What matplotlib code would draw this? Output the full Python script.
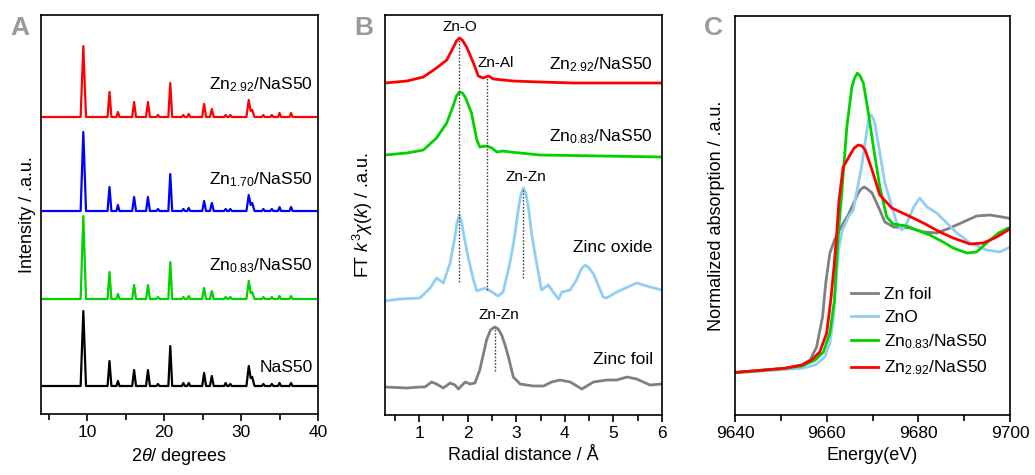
import numpy as np
import matplotlib
matplotlib.use("Agg")
import matplotlib.pyplot as plt
from matplotlib.ticker import MultipleLocator

plt.rcParams['font.family'] = ['Liberation Sans', 'DejaVu Sans']
plt.rcParams['mathtext.fontset'] = 'custom'
plt.rcParams['mathtext.rm'] = 'Liberation Sans'
plt.rcParams['mathtext.it'] = 'Liberation Sans:italic'
plt.rcParams['mathtext.bf'] = 'Liberation Sans:bold'

# ---------------- Panel A: XRD ----------------
two_theta = [4.0, 9.15, 9.5, 9.85, 12.65, 12.9, 13.15, 13.8, 14.0, 14.2,
             15.85, 16.1, 16.35, 17.65, 17.9, 18.15, 19.0, 19.2, 19.4,
             20.55, 20.8, 21.05, 22.3, 22.5, 22.7, 23.0, 23.2, 23.4,
             24.95, 25.2, 25.45, 25.95, 26.2, 26.45, 27.8, 28.0, 28.2,
             28.4, 28.6, 28.8, 30.7, 31.0, 31.25, 31.45, 31.75,
             32.7, 32.9, 33.1, 33.8, 34.0, 34.2, 34.8, 35.0, 35.2,
             36.3, 36.5, 36.7, 40.0]
xrd_zn292 = [0, 0, 71, 0, 0, 25, 0, 0, 5, 0, 0, 15, 0, 0, 15, 0, 0, 2, 0,
             0, 34, 0, 0, 2, 0, 0, 3, 0, 0, 13, 0, 0, 8, 0, 0, 2, 0,
             0, 2, 0, 0, 17, 6, 7, 0, 0, 2, 0, 0, 2, 0, 0, 4, 0, 0, 4, 0, 0]
xrd_zn170 = [0, 0, 79, 0, 0, 24, 0, 0, 6, 0, 0, 14, 0, 0, 14, 0, 0, 2, 0,
             0, 37, 0, 0, 2, 0, 0, 3, 0, 0, 10, 0, 0, 8, 0, 0, 2, 0,
             0, 2, 0, 0, 16, 6, 8, 0, 0, 2, 0, 0, 2, 0, 0, 4, 0, 0, 4, 0, 0]
xrd_zn083 = [0, 0, 83, 0, 0, 27, 0, 0, 5, 0, 0, 14, 0, 0, 14, 0, 0, 2, 0,
             0, 37, 0, 0, 2, 0, 0, 3, 0, 0, 11, 0, 0, 8, 0, 0, 2, 0,
             0, 2, 0, 0, 18, 6, 7, 0, 0, 2, 0, 0, 2, 0, 0, 3, 0, 0, 3, 0, 0]
xrd_nas50 = [0, 0, 75, 0, 0, 25, 0, 0, 5, 0, 0, 16, 0, 0, 16, 0, 0, 2, 0,
             0, 40, 0, 0, 3, 0, 0, 3, 0, 0, 13, 0, 0, 10, 0, 0, 3, 0,
             0, 2, 0, 0, 20, 8, 9, 0, 0, 2, 0, 0, 2, 0, 0, 3, 0, 0, 3, 0, 0]
xrd_labels = ['Zn$_\\mathregular{2.92}$/NaS50', 'Zn$_\\mathregular{1.70}$/NaS50',
              'Zn$_\\mathregular{0.83}$/NaS50', 'NaS50']

# ---------------- Panel B: FT-EXAFS ----------------
r_zn292 = [0.3, 0.75, 1.09, 1.36, 1.57, 1.71, 1.77, 1.83, 1.89, 1.98, 2.12, 2.22,
           2.32, 2.43, 2.53, 2.73, 2.94, 3.49, 4.17, 6.0]
ft_zn292 = [332, 334, 338, 347, 355, 368, 374, 377, 375, 368, 352, 339,
            337, 339, 336, 335, 334, 333, 332, 332]
r_zn083 = [0.3, 0.75, 1.09, 1.36, 1.57, 1.71, 1.77, 1.83, 1.89, 1.95, 2.08, 2.19,
           2.25, 2.39, 2.5, 2.6, 2.73, 2.87, 3.49, 6.0]
ft_zn083 = [260, 262, 265, 277, 292, 310, 319, 323, 322, 318, 302, 275,
            268, 269, 267, 263, 264, 263, 260, 258]
r_zno = [0.3, 0.61, 1.02, 1.23, 1.36, 1.5, 1.64, 1.70, 1.74, 1.78, 1.83, 1.88,
         1.93, 1.97, 2.01, 2.12, 2.19, 2.36, 2.5, 2.63, 2.73, 2.87, 2.93, 2.97,
         3.05, 3.10, 3.15, 3.20, 3.25, 3.32, 3.37, 3.42, 3.52, 3.66, 3.76, 3.87,
         3.94, 4.11, 4.24, 4.34, 4.42, 4.50, 4.59, 4.79, 4.86, 5.07, 5.48, 5.75,
         6.0]
ft_zno = [114, 116, 117, 127, 137, 132, 152, 168, 178, 192, 200, 192,
          178, 168, 158, 135, 124, 127, 123, 119, 123, 152, 168, 180,
          208, 221, 227, 221, 208, 180, 166, 152, 125, 130, 123, 116,
          123, 125, 135, 146, 150, 147, 141, 118, 117, 123, 132, 128,
          125]
r_foil = [0.3, 0.75, 1.02, 1.12, 1.26, 1.36, 1.5, 1.64, 1.74, 1.81, 1.95, 2.05,
          2.15, 2.25, 2.33, 2.39, 2.47, 2.56, 2.63, 2.70, 2.77, 2.84, 2.94, 3.08,
          3.35, 3.56, 3.73, 3.9, 4.11, 4.35, 4.59, 4.87, 5.07, 5.28, 5.48, 5.75,
          6.0]
ft_foil = [28, 27, 28, 28, 33, 31, 27, 32, 30, 26, 33, 31,
           32, 45, 62, 75, 85, 88, 86, 80, 70, 58, 38, 31,
           29, 29, 33, 35, 33, 26, 33, 35, 35, 38, 36, 30,
           31]
ft_labels = ['Zn$_\\mathregular{2.92}$/NaS50', 'Zn$_\\mathregular{0.83}$/NaS50',
             'Zinc oxide', 'Zinc foil']
bond_r = [1.83, 2.39, 3.15, 2.56]
bond_top = [377, 337, 227, 88]
bond_bottom = [133, 125, 137, 44]
bond_names = ['Zn-O', 'Zn-Al', 'Zn-Zn', 'Zn-Zn']

# ---------------- Panel C: XANES ----------------
e_foil = [9640, 9650.9, 9654.6, 9656.4, 9657.8, 9659.1, 9659.8, 9660.7, 9661.8,
          9663.0, 9664.7, 9666.2, 9666.9, 9667.5, 9668.2, 9668.9, 9669.9, 9671.3,
          9672.7, 9674.6, 9678.2, 9681.1, 9684.0, 9686.9, 9689.8, 9692.7, 9695.6,
          9699.6, 9700]
mu_foil = [42.5, 46.7, 50, 55, 68, 98, 132, 162, 176,
           187, 200, 215, 222, 226, 228, 226, 222, 208,
           193, 188, 187, 183, 182, 187, 193, 199, 200,
           197, 196]
e_zno = [9640, 9654.6, 9657.5, 9659.6, 9660.7, 9661.5, 9662.0, 9662.6, 9663.3,
         9664.7, 9665.8, 9667.6, 9668.7, 9669.1, 9669.6, 9670.1, 9670.5, 9671.6,
         9672.7, 9673.8, 9675.3, 9676.4, 9677.5, 9679.0, 9680.3, 9681.9, 9684.0,
         9686.2, 9688.4, 9691.3, 9694.9, 9697.8, 9700]
mu_zno = [42, 46.7, 50, 58, 72, 98, 132, 165, 183,
          198, 205, 248, 282, 294, 300, 297, 292, 262,
          232, 215, 192, 185, 192, 208, 217, 208, 202,
          192, 182, 172, 165, 163, 168]
e_zn083 = [9640, 9650.9, 9654.6, 9657.5, 9659.3, 9660.7, 9661.7, 9662.2, 9662.7,
           9663.3, 9664.4, 9665.5, 9666.1, 9666.7, 9667.3, 9668.0, 9669.1, 9670.2,
           9671.6, 9673.1, 9674.5, 9677.5, 9679.6, 9682.5, 9685.4, 9687.6, 9690.6,
           9692.7, 9694.9, 9697.5, 9699.6, 9700]
mu_zn083 = [42.5, 46.7, 49, 55, 63, 82, 115, 158, 190,
            222, 288, 328, 337, 342, 339, 332, 302, 268,
            228, 198, 191, 189, 185, 180, 173, 167, 162,
            163, 172, 182, 187, 187]
e_zn292 = [9640, 9650.9, 9654.6, 9656.7, 9658.5, 9660.0, 9660.9, 9661.6, 9662.2,
           9662.7, 9663.6, 9665.1, 9666.0, 9666.9, 9667.7, 9668.4, 9669.9, 9671.6,
           9674.2, 9677.5, 9681.1, 9684.7, 9687.6, 9691.3, 9694.2, 9697.1, 9699.6,
           9700]
mu_zn292 = [42.5, 46.7, 50, 55, 63, 82, 115, 148, 182,
            215, 248, 260, 267, 270, 269, 265, 245, 220,
            207, 200, 192, 183, 177, 171, 172, 178, 185,
            186]
xanes_labels = ['Zn foil', 'ZnO', 'Zn$_\\mathregular{0.83}$/NaS50',
                'Zn$_\\mathregular{2.92}$/NaS50']

RED = '#ff0000'
BLUE = '#0000ff'
GREEN = '#00d200'
LBLUE = '#8fcff5'
GREY = '#808080'

fig = plt.figure(figsize=(10.35, 4.75), dpi=100)
axA = fig.add_axes([41 / 1035, 1 - 414 / 475, 277 / 1035, 399 / 475])
axB = fig.add_axes([385 / 1035, 1 - 415 / 475, 277 / 1035, 400 / 475])
axC = fig.add_axes([735 / 1035, 1 - 415 / 475, 275 / 1035, 399 / 475])


def style_axis(ax):
    for sp in ax.spines.values():
        sp.set_linewidth(1.2)
    ax.tick_params(axis='x', which='both', direction='out', top=False,
                   labelsize=12.5, width=1.2, pad=3)
    ax.tick_params(axis='x', which='major', length=5)
    ax.tick_params(axis='x', which='minor', length=4)
    ax.tick_params(axis='y', which='both', left=False, right=False,
                   labelleft=False)


# Panel A
offsets_A = [297, 203, 115, 28]
label_y_A = [329, 234, 148, 47]
for ys, off, col, lab, ly in zip([xrd_zn292, xrd_zn170, xrd_zn083, xrd_nas50],
                                 offsets_A, [RED, BLUE, GREEN, 'black'],
                                 xrd_labels, label_y_A):
    axA.plot(two_theta, np.array(ys) + off, color=col, lw=1.6,
             solid_joinstyle='round')
    axA.text(39.3, ly, lab, ha='right', va='center', fontsize=12.5)
axA.set_xlim(4, 40)
axA.set_ylim(0, 399)
axA.xaxis.set_major_locator(MultipleLocator(10))
axA.xaxis.set_minor_locator(MultipleLocator(5))
style_axis(axA)
axA.set_xlabel('2$\\theta$/ degrees', fontsize=13, labelpad=4)
axA.set_ylabel('Intensity / .a.u.', fontsize=13)
axA.yaxis.set_label_coords(-0.017, 0.5)

# Panel B
for rs, ys, col in zip([r_zn292, r_zn083, r_zno, r_foil],
                       [ft_zn292, ft_zn083, ft_zno, ft_foil],
                       [RED, GREEN, LBLUE, GREY]):
    axB.plot(rs, ys, color=col, lw=2.0, solid_joinstyle='round')
for r, top, bot in zip(bond_r, bond_top, bond_bottom):
    axB.plot([r, r], [bot, top], color='#444444', ls=(0, (1.2, 1.2)), lw=1.0)
bond_text_x = [1.84, 2.58, 3.2, 2.64]
bond_text_y = [388, 352, 238, 100]
for name, tx, ty in zip(bond_names, bond_text_x, bond_text_y):
    axB.text(tx, ty, name, ha='center', va='center', fontsize=11)
label_y_B = [350, 278, 168, 55]
for lab, ly in zip(ft_labels, label_y_B):
    axB.text(5.81, ly, lab, ha='right', va='center', fontsize=12.5)
axB.set_xlim(0.3, 6)
axB.set_ylim(0, 400)
axB.xaxis.set_major_locator(MultipleLocator(1))
axB.xaxis.set_minor_locator(MultipleLocator(0.5))
style_axis(axB)
axB.set_xlabel('Radial distance / Å', fontsize=13, labelpad=4)
axB.set_ylabel('FT $k^3\\chi(k)$ / .a.u.', fontsize=13)
axB.yaxis.set_label_coords(-0.035, 0.5)

# Panel C
for es, ms, col, lab in zip([e_foil, e_zno, e_zn083, e_zn292],
                            [mu_foil, mu_zno, mu_zn083, mu_zn292],
                            [GREY, LBLUE, GREEN, RED], xanes_labels):
    axC.plot(es, ms, color=col, lw=2.0, label=lab, solid_joinstyle='round')
axC.set_xlim(9640, 9700)
axC.set_ylim(0, 399)
axC.xaxis.set_major_locator(MultipleLocator(20))
axC.xaxis.set_minor_locator(MultipleLocator(10))
style_axis(axC)
axC.set_xlabel('Energy(eV)', fontsize=13, labelpad=4)
axC.set_ylabel('Normalized absorption / .a.u.', fontsize=13)
axC.yaxis.set_label_coords(-0.035, 0.5)
axC.legend(loc='upper left', bbox_to_anchor=(0.42, 0.32), frameon=False,
           fontsize=12.5, handlelength=1.6, handletextpad=0.35,
           borderpad=0, borderaxespad=0, labelspacing=0.43)

# panel letters
for x, letter in zip([10, 354, 704], ['A', 'B', 'C']):
    fig.text(x / 1035, 1 - 28 / 475, letter, fontsize=19, fontweight='bold',
             color='#9a9a9a', ha='left', va='center')

fig.savefig('out.png', dpi=100)
